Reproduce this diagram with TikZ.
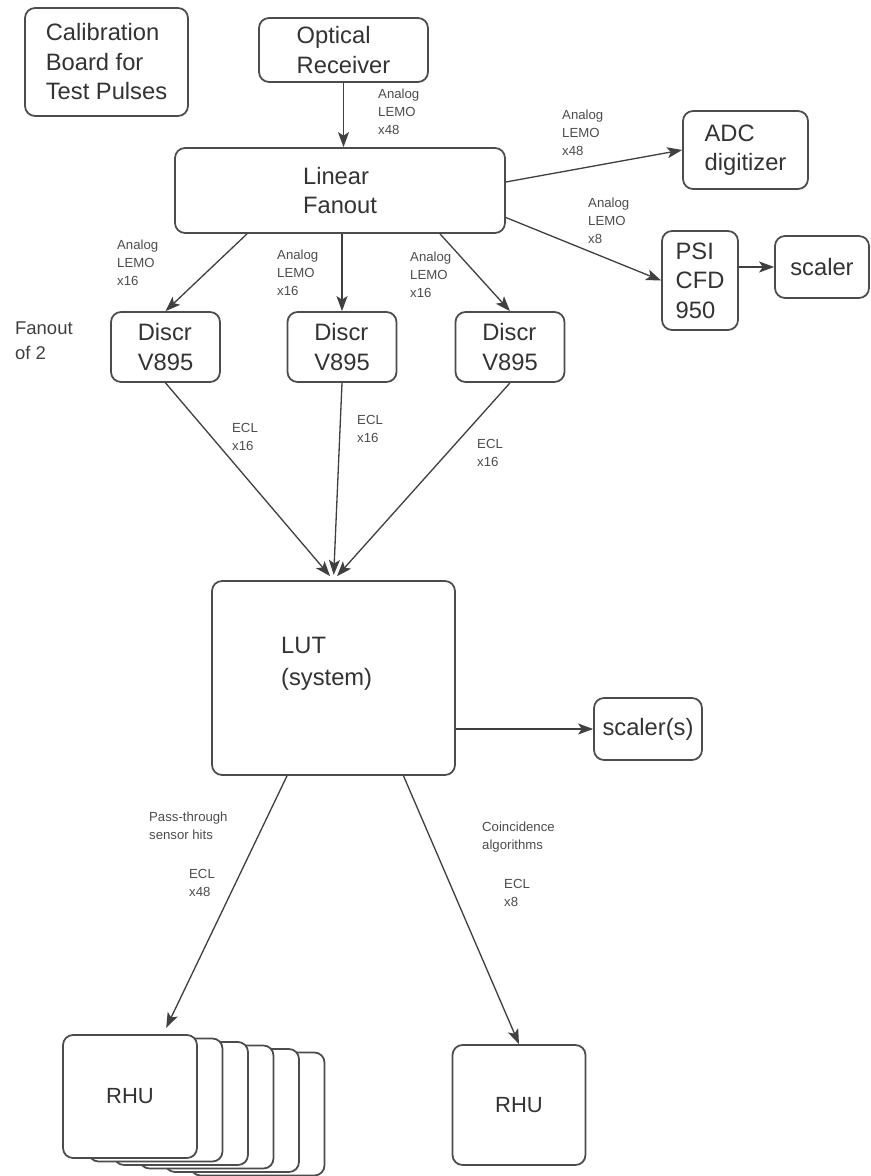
\documentclass[tikz,border=0pt]{standalone}
\usepackage{fontspec}
\setmainfont{Liberation Sans}
\usetikzlibrary{arrows.meta}

\begin{document}
\begin{tikzpicture}[x=0.02cm,y=-0.02cm,
  box/.style={draw=black!70,line width=1pt,rounded corners=0.2cm,fill=white,align=left,text=black!80,font=\fontsize{13.5}{16.8}\selectfont},
  con/.style={draw=black!75,line width=0.75pt,-{Stealth[length=0.3cm,width=0.22cm,inset=0.07cm]}},
  lbl/.style={anchor=west,align=left,text=black!70,font=\fontsize{7.5}{10.2}\selectfont}]
\useasboundingbox (0,0) rectangle (870,1176);
\node[box,minimum width=3.26cm,minimum height=2.16cm] (cal) at (106.5,62) {Calibration\\Board for\\Test Pulses};
\node[box,minimum width=3.38cm,minimum height=1.28cm] (opt) at (343.5,50) {Optical\\Receiver};
\node[box,minimum width=6.6cm,minimum height=1.7cm] (lin) at (340,190.5) {Linear\\Fanout};
\node[box,minimum width=2.5cm,minimum height=1.56cm] (adc) at (745.5,150) {ADC\\digitizer};
\node[box,minimum width=1.52cm,minimum height=1.98cm] (psi) at (700,280.5) {PSI\\CFD\\950};
\node[box,minimum width=1.88cm,minimum height=1.24cm] (sc) at (822,267) {scaler};
\foreach \n/\x in {d1/165.5,d2/342,d3/510}
  \node[box,minimum width=2.18cm,minimum height=1.4cm] (\n) at (\x,347) {Discr\\V895};
\node[box,minimum width=4.86cm,minimum height=3.88cm] (lut) at (333.5,678) {};
\node[anchor=west,align=left,text=black!80,font=\fontsize{13.5}{18.1}\selectfont] (luttxt) at (275,664) {LUT\\(system)};
\node[box,minimum width=2.16cm,minimum height=1.24cm] (scs) at (648,729) {scaler(s)};
\foreach \i in {5,...,1}
  \node[box,minimum width=2.68cm,minimum height=2.46cm] (rhu\i) at (130+25.5*\i,1096.5+3.5*\i) {};
\node[box,minimum width=2.68cm,minimum height=2.46cm,font=\fontsize{12.5}{15}\selectfont] (rhua) at (130,1096.5) {RHU};
\node[box,minimum width=2.66cm,minimum height=2.4cm,font=\fontsize{12.5}{15}\selectfont] (rhub) at (519,1105) {RHU};
\node[anchor=west,align=left,text=black!75,font=\fontsize{10.5}{14.2}\selectfont] (fo) at (9,340.5) {Fanout\\of 2};

\draw[con] (opt.south) -- (opt.south |- lin.north);
\draw[con] (lin.east) ++(0,-8.5) -- (adc.west);
\draw[con] (lin.east) ++(0,27) -- (psi.west);
\draw[con] (psi.east |- sc.west) -- (sc.west);
\draw[con] (lin.south) ++(-93,0) -- (d1.north);
\draw[con] (lin.south -| d2.north) -- (d2.north);
\draw[con] (lin.south) ++(100,0) -- (d3.north);
\foreach \n in {d1,d2,d3} \draw[con,shorten >=3pt] (\n.south) -- (lut.north);
\draw[con] (lut.east |- scs.west) -- (scs.west);
\draw[con,shorten >=4pt] (lut.south) ++(-46.5,0) -- (rhua.62);
\draw[con] (lut.south) ++(70,0) -- (rhub.north);

\node[lbl] (a0) at (372,112) {Analog\\LEMO\\x48};
\node[lbl] (a1) at (556,133) {Analog\\LEMO\\x48};
\node[lbl] (a2) at (582,221) {Analog\\LEMO\\x8};
\node[lbl] (a3) at (111,263) {Analog\\LEMO\\x16};
\node[lbl] (a4) at (271,273) {Analog\\LEMO\\x16};
\node[lbl] (a5) at (404,275) {Analog\\LEMO\\x16};
\node[lbl] (e1) at (226,436.5) {ECL\\x16};
\node[lbl] (e2) at (351,429) {ECL\\x16};
\node[lbl] (e3) at (471,453) {ECL\\x16};
\node[lbl] (p1) at (143,826) {Pass-through\\sensor hits};
\node[lbl] (e4) at (183,883) {ECL\\x48};
\node[lbl] (c1) at (476,837) {Coincidence\\algorithms};
\node[lbl] (e5) at (498,893) {ECL\\x8};
\end{tikzpicture}
\end{document}
